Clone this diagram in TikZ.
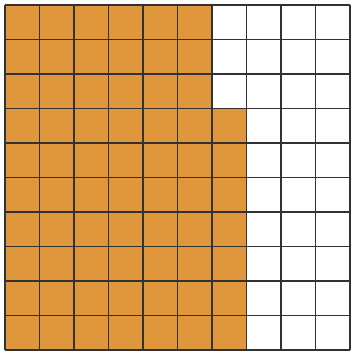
\documentclass[tikz,border=0pt]{standalone}
\definecolor{fillorange}{RGB}{224,150,58}
\definecolor{gridline}{RGB}{50,50,50}
\tikzset{gridstyle/.style={draw=gridline,line width=1.6pt}}
\begin{document}
\begin{tikzpicture}[x=1pt,y=-1pt]
\useasboundingbox (0,0) rectangle (352,353);
\fill[white] (0,0) rectangle (352,353);
\fill[fillorange] (5,5) -- (212,5) -- (212,108.5) -- (246.5,108.5) -- (246.5,350) -- (5,350) -- cycle;
\foreach \i in {0,...,10} {
  \draw[gridstyle] ({5+34.5*\i},5) -- ({5+34.5*\i},350);
  \draw[gridstyle] (5,{5+34.5*\i}) -- (350,{5+34.5*\i});
}
\end{tikzpicture}
\end{document}
